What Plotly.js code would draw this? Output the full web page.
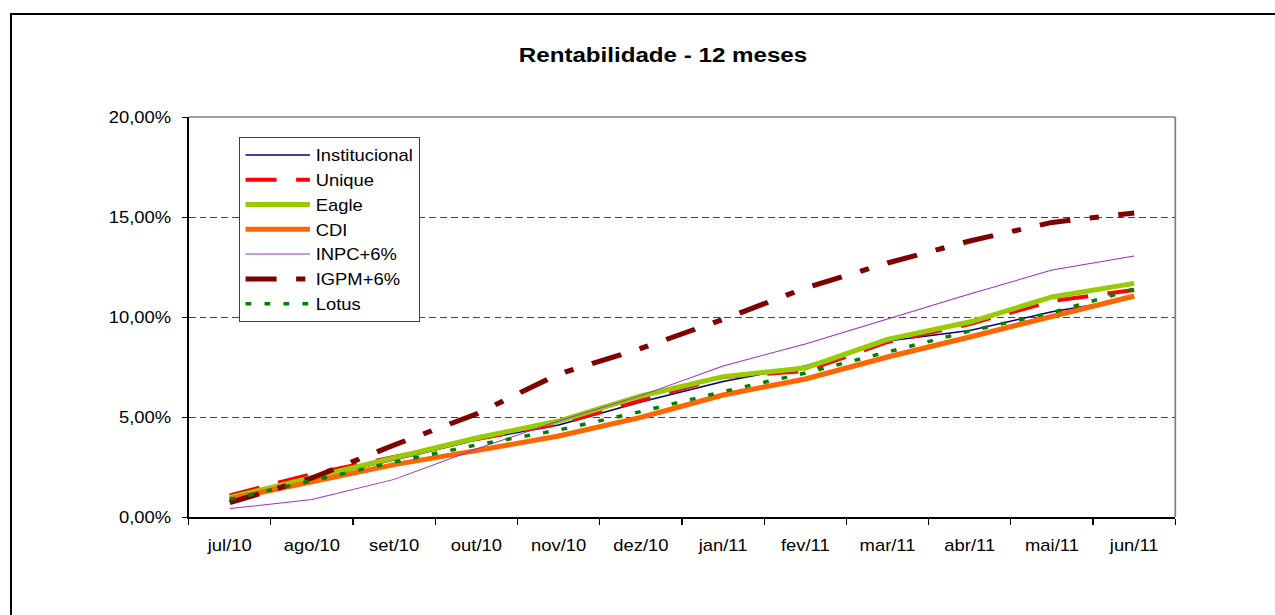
<!DOCTYPE html>
<html>
<head>
<meta charset="utf-8">
<script src="https://cdn.plot.ly/plotly-3.0.1.min.js"></script>
<style>
  html, body { margin: 0; padding: 0; background: #fff; overflow: hidden; }
  #wrap { position: relative; width: 1275px; height: 615px; overflow: hidden; }
  #chart { position: absolute; left: 0; top: 0; transform-origin: 0 0; }
  #frame { position: absolute; left: 10px; top: 13px; width: 1400px; height: 800px;
           border: 2px solid #000; pointer-events: none; box-sizing: border-box; }
</style>
</head>
<body>
<div id="wrap">
  <div id="chart"></div>
  <div id="frame"></div>
</div>
<script>
// ---- data (values in %) ----
const categories = ['jul/10','ago/10','set/10','out/10','nov/10','dez/10','jan/11','fev/11','mar/11','abr/11','mai/11','jun/11'];
const institucional = [0.88, 1.90, 2.85, 3.85, 4.60, 5.75, 6.77, 7.55, 8.80, 9.32, 10.26, 10.95];
const unique        = [1.08, 2.15, 3.00, 3.90, 4.65, 5.80, 7.00, 7.30, 8.75, 9.65, 10.80, 11.35];
const eagle         = [0.98, 1.95, 2.95, 3.95, 4.80, 6.05, 7.02, 7.45, 8.88, 9.75, 11.00, 11.68];
const cdi           = [0.90, 1.77, 2.62, 3.32, 4.05, 4.98, 6.10, 6.90, 8.00, 9.00, 10.00, 11.05];
const inpc          = [0.42, 0.88, 1.88, 3.40, 4.80, 6.07, 7.55, 8.65, 9.90, 11.15, 12.35, 13.05];
const igpm          = [0.72, 1.95, 3.60, 5.15, 7.15, 8.43, 9.88, 11.45, 12.70, 13.80, 14.73, 15.20];
const lotus         = [0.88, 1.82, 2.75, 3.60, 4.35, 5.27, 6.27, 7.20, 8.25, 9.30, 10.22, 11.40];
const seriesNames = ['Institucional','Unique','Eagle','CDI','INPC+6%','IGPM+6%','Lotus'];
const yTickVals = [0, 5, 10, 15, 20];
const yTickText = ['0,00%', '5,00%', '10,00%', '15,00%', '20,00%'];

const FONT = '"Liberation Sans", Arial, Helvetica, sans-serif';
// the reference picture is horizontally stretched; draw narrower and stretch the whole figure
const SX = 1.15;
const W = 1275 / SX, H = 615;
const PL = 189 / SX, PR = 1175 / SX;

function tr(i, y, color, width, dash) {
  return { type: 'scatter', mode: 'lines', name: seriesNames[i], legendgroup: 'g' + i,
           x: categories, y: y,
           line: { color: color, width: width, dash: dash || 'solid' }, hoverinfo: 'skip' };
}

const data = [
  tr(0, institucional, '#000080', 1.5),
  tr(1, unique, '#FF0000', 4, '27px,17px'),
  tr(2, eagle, '#99CC00', 5),
  tr(3, cdi, '#FF6600', 5),
  tr(4, inpc, '#A030C0', 1),
  tr(5, igpm, '#800000', 5, '27px,17px,8px,17px'),
  tr(6, lotus, '#008000', 3.5, '5px,11.5px')
];

const layout = {
  width: W, height: H,
  margin: { l: PL, r: W - PR, t: 117, b: 98, pad: 0 },
  paper_bgcolor: '#fff', plot_bgcolor: '#fff',
  font: { family: FONT, size: 16, color: '#000' },
  title: { text: '<b>Rentabilidade - 12 meses</b>', font: { family: FONT, size: 21, color: '#000' },
           x: 663 / 1275, xref: 'container', xanchor: 'center',
           y: 1 - 55 / 615, yref: 'container', yanchor: 'middle' },
  showlegend: true,
  legend: { x: (239 - 189) / 986, y: (517 - 137) / 400, xanchor: 'left', yanchor: 'top',
            bgcolor: '#fff', bordercolor: '#404040', borderwidth: 1,
            font: { family: FONT, size: 16, color: '#000' },
            itemwidth: 56, tracegroupgap: 1, traceorder: 'grouped' },
  xaxis: {
    type: 'category', range: [-0.5, 11.5], tickson: 'boundaries', ticks: 'outside', ticklen: 6,
    tickcolor: '#000', tickwidth: 1,
    showline: true, linecolor: '#000', linewidth: 1.5, mirror: false,
    showgrid: false, zeroline: false, fixedrange: true, ticklabelstandoff: 13,
    tickfont: { family: FONT, size: 16, color: '#000' }
  },
  yaxis: {
    range: [0, 20], tickmode: 'array', tickvals: yTickVals, ticktext: yTickText,
    ticks: 'outside', ticklen: 4.5, tickcolor: '#000', tickwidth: 1,
    showline: true, linecolor: '#000', linewidth: 1.5,
    showgrid: true, gridcolor: '#444', gridwidth: 1, griddash: '6px,3.5px',
    zeroline: false, fixedrange: true, ticklabelstandoff: 6,
    tickfont: { family: FONT, size: 16, color: '#000' }
  },
  shapes: [
    { type: 'line', xref: 'paper', yref: 'paper', x0: 0, x1: 1, y0: 1, y1: 1, line: { color: '#808080', width: 1.5 } },
    { type: 'line', xref: 'paper', yref: 'paper', x0: 1, x1: 1, y0: 0, y1: 1, line: { color: '#808080', width: 1.5 } }
  ]
};

const el = document.getElementById('chart');
el.style.width = W + 'px';
el.style.height = H + 'px';
el.style.transform = 'scaleX(' + SX + ')';
Plotly.newPlot(el, data, layout, { staticPlot: true, displayModeBar: false });
</script>
</body>
</html>
